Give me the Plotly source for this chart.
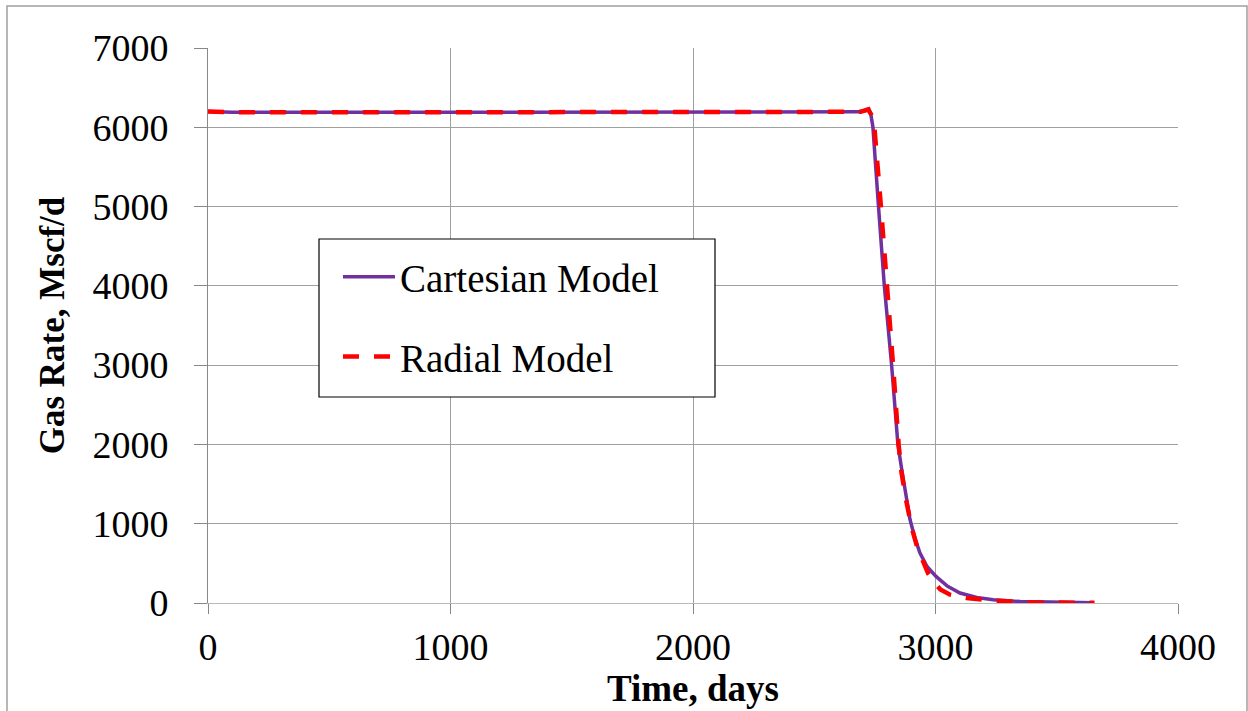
import plotly.graph_objects as go

# Gas production rate vs. time for the two reservoir models
cartesian_days = [0, 100, 1000, 2000, 2600, 2690, 2712, 2725, 2733, 2742, 2765, 2789, 2819,
                  2845, 2860, 2878, 2895, 2915, 2936, 2965, 3002, 3050, 3101, 3170, 3238,
                  3350, 3500, 3655]
cartesian_rate = [6200, 6190, 6190, 6190, 6190, 6195, 6215, 6232, 6170, 6000, 5000, 4000, 3000,
                  2000, 1700, 1330, 1050, 820, 630, 460, 335, 210, 126, 70, 42,
                  18, 8, 3]

radial_days = [0, 100, 1000, 2000, 2600, 2690, 2712, 2722, 2735, 2748, 2775, 2801, 2825,
               2848, 2860, 2880, 2902, 2925, 2950, 2970, 2991, 3020, 3060, 3128, 3238,
               3400, 3655]
radial_rate = [6200, 6190, 6190, 6190, 6190, 6195, 6215, 6225, 6160, 6000, 5000, 4000, 3000,
               2000, 1640, 1280, 946, 700, 504, 370, 272, 170, 105, 63, 29,
               8, 2]

x_ticks = [0, 1000, 2000, 3000, 4000]
y_ticks = [0, 1000, 2000, 3000, 4000, 5000, 6000, 7000]

FONT = "Liberation Serif"
W, H = 1248, 711
L, R, T, B = 208, 70, 48, 108
PW, PH = W - L - R, H - T - B


def px_x(p):
    return (p - L) / PW


def px_y(p):
    return (H - B - p) / PH


fig = go.Figure()
fig.add_trace(go.Scatter(
    x=cartesian_days, y=cartesian_rate, mode="lines", name="Cartesian Model",
    legendgroup="a", line=dict(color="#7030A0", width=3.5),
))
fig.add_trace(go.Scatter(
    x=radial_days, y=radial_rate, mode="lines", name="Radial Model",
    legendgroup="b", line=dict(color="#FF0000", width=4.5, dash="16px,15px"),
))

grid = "#a0a0a0"
fig.update_xaxes(
    range=[0, 4000], tickvals=x_ticks, showgrid=True, gridcolor=grid, gridwidth=1,
    zeroline=False, showline=True, linecolor="#b8b8b8", linewidth=1,
    ticks="outside", ticklen=10, tickcolor="#888888",
    tickfont=dict(family=FONT, size=38, color="black"),
    title=dict(text="<b>Time, days</b>", font=dict(family=FONT, size=37, color="black"),
               standoff=6),
)
fig.update_yaxes(
    range=[0, 7000], tickvals=y_ticks, showgrid=True, gridcolor=grid, gridwidth=1,
    zeroline=False, showline=True, linecolor="#888888", linewidth=1,
    ticks="outside", ticklen=13, tickcolor="#888888", ticklabelstandoff=18,
    tickfont=dict(family=FONT, size=38, color="black"),
    title=dict(text="<b>Gas Rate, Mscf/d</b>", font=dict(family=FONT, size=35, color="black"),
               standoff=17),
)

fig.update_layout(
    width=W, height=H,
    margin=dict(l=L, r=R, t=T, b=B),
    paper_bgcolor="white", plot_bgcolor="white",
    showlegend=True,
    legend=dict(
        x=px_x(338), y=px_y(245), xanchor="left", yanchor="top",
        bgcolor="rgba(0,0,0,0)", borderwidth=0,
        font=dict(family=FONT, size=39, color="black"),
        tracegroupgap=26, itemwidth=52,
    ),
    shapes=[
        # legend frame
        dict(type="rect", xref="paper", yref="paper", layer="above",
             x0=px_x(319), x1=px_x(715), y0=px_y(397), y1=px_y(239),
             line=dict(color="black", width=1.2), fillcolor="white"),
        # outer chart border
        dict(type="rect", xref="paper", yref="paper", layer="above",
             x0=px_x(7), x1=px_x(1247), y0=px_y(720), y1=px_y(6),
             line=dict(color="#a0a0a0", width=1.5), fillcolor="rgba(0,0,0,0)"),
    ],
)

fig.write_html("out.html")
